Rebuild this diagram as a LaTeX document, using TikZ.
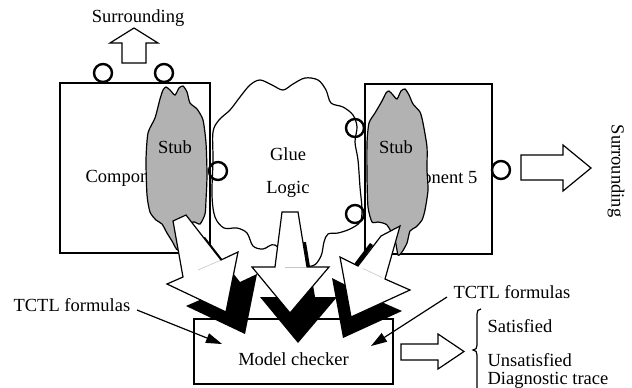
\documentclass[tikz,border=0pt]{standalone}
\usepackage{fontspec}
\setmainfont{Liberation Serif}
\usetikzlibrary{arrows.meta}
\definecolor{stubgray}{gray}{0.7}
\begin{document}
\begin{tikzpicture}[x=0.5pt,y=-0.5pt,line width=0.6pt,line join=miter,
  font=\fontsize{9.25}{11}\selectfont,
  lbl/.style={inner sep=0,anchor=base},
  lblw/.style={inner sep=0,anchor=base west},
  port/.style={circle,draw,line width=1.2pt,minimum size=9pt,inner sep=0},
  blockarrow/.style={draw,fill=white},
  stubshape/.style={draw,fill=stubgray},
  cloudshape/.style={draw,fill=white},
  tctl/.style={-{Triangle[length=8pt,width=5pt]}},
  hilite/.style={draw=gray!45,line width=0.3pt}]
\clip (0,0) rectangle (632,387);
% glue logic cloud
\path[cloudshape] plot[smooth cycle,tension=0.55] coordinates {
 (213,132) (219,120) (230,110) (240,97) (250,85) (260,80) (272,85) (283,90)
 (293,84) (305,78) (318,80) (326,90) (331,103) (343,107) (353,115) (357,127)
 (355,142) (358,160) (360,187) (362,210) (360,222) (350,229) (338,233)
 (328,234) (324,242) (321,256) (312,266) (290,262) (275,245) (263,249)
 (253,246) (247,233) (237,228) (224,228) (215,217) (212,195) (213,160)};
% components
\node (comp1) [draw,minimum width=75pt,minimum height=85pt,inner sep=0] at (135,168) {};
\node (comp5) [draw,minimum width=63.5pt,minimum height=85pt,inner sep=0] at (428.5,169) {};
\node (comp1t) [lblw] at (85,182) {Component 1};
\node (comp5t) [inner sep=0,anchor=base east] at (478,183) {Component 5};
% stubs
\path[stubshape] plot[smooth cycle,tension=0.4] coordinates {
 (160,99) (163,90) (166,87) (170,90) (175,95) (179,88) (183,86) (187,92)
 (190,103) (197,109) (203,120) (206,143) (207,175) (206,200) (205,214)
 (200,224) (193,222) (185,232) (178,250) (172,241) (167,233) (162,224)
 (156,220) (150,212) (147,195) (146,160) (148,133) (155,118)};
\path[stubshape] plot[smooth cycle,tension=0.4] coordinates {
 (382,101) (386,93) (389,91) (393,95) (397,99) (401,91) (405,89) (409,95)
 (413,104) (420,112) (423,123) (427,147) (427,170) (428,190) (425,210)
 (422,220) (416,227) (410,231) (407,243) (402,252) (398,255) (395,240)
 (387,225) (378,222) (372,222) (368,207) (367,177) (367,143) (369,123)
 (375,113)};
\node (stubL) [lbl] at (175,153) {Stub};
\node (stubR) [lbl] at (396,153) {Stub};
\node (glue) [lbl] at (288,160) {Glue};
\node (logic) [lbl] at (288,193) {Logic};
% ports
\node (p1) [port] at (103,73) {};
\node (p2) [port] at (164,73) {};
\node (p3) [port] at (218,171) {};
\node (p4) [port] at (355,128) {};
\node (p5) [port] at (355,214) {};
\node (p6) [port] at (501,170) {};
% surrounding arrows
\path[blockarrow] (122,63) -- (122,43) -- (110,43) -- (134,28) -- (158,43) -- (146,43) -- (146,63) -- cycle;
\node (surTop) [lbl] at (138,22) {Surrounding};
\path[blockarrow] (521,155) -- (563,155) -- (563,145) -- (591,168) -- (563,191) -- (563,180) -- (521,180) -- cycle;
\node (surRight) [inner sep=0,rotate=-90] at (616,171) {Surrounding};
% model checker
\node (mc) [draw,fill=white,minimum width=99.5pt,minimum height=32.5pt,inner sep=0] at (293.5,351.5) {};
\node (mct) [lbl] at (293.5,365) {Model checker};
% 3D block arrows: black drop shadows, then white faces
\def\arrL{(173,221) -- (186,215) -- (221,260) -- (238,252) -- (226,312) -- (167,284) -- (183,277) -- cycle}
\def\arrM{(282,212) -- (298,212) -- (307,267) -- (329,267) -- (290,313) -- (252,267) -- (275,267) -- cycle}
\def\arrR{(381,236) -- (400,226) -- (385,279) -- (410,290) -- (351,317) -- (340,257) -- (358,266) -- cycle}
\fill[shift={(19,22)}] \arrL;
\fill[shift={(8,30)}] \arrM;
\fill[shift={(-8,21)}] \arrR;
\fill (373,245) -- (358,266) -- (354.5,263.5) -- (370,243) -- cycle;
\path[blockarrow] \arrL;
\path[blockarrow] \arrM;
\path[blockarrow] \arrR;
\draw[hilite] (198,270) -- (220,260.5);
\draw[hilite] (285,267) -- (306,267);
\draw[hilite] (363,268.5) -- (382,277.5);
% TCTL formulas
\node (tctlL) [lblw] at (13,311) {TCTL formulas};
\node (tctlR) [lblw] at (453,298) {TCTL formulas};
\coordinate (tlS) at (137,310);
\coordinate (tlE) at (222,344);
\coordinate (trS) at (447,297);
\coordinate (trE) at (371,346);
\draw[tctl] (tlS) -- (tlE);
\draw[tctl] (trS) -- (trE);
% output
\path[blockarrow] (401,344) -- (438,344) -- (438,334) -- (464,351.5) -- (438,369) -- (438,360) -- (401,360) -- cycle;
\draw (481,309) .. controls (478,309) and (477,311) .. (477,314) -- (477,345)
  .. controls (477,348) and (476,350) .. (473,350)
  .. controls (476,350) and (477,352) .. (477,355) -- (477,392);
\node (sat) [lblw] at (487,332) {Satisfied};
\node (unsat) [lblw] at (487,366.5) {Unsatisfied};
\node (diag) [lblw] at (487,384) {Diagnostic trace};
\end{tikzpicture}
\end{document}
